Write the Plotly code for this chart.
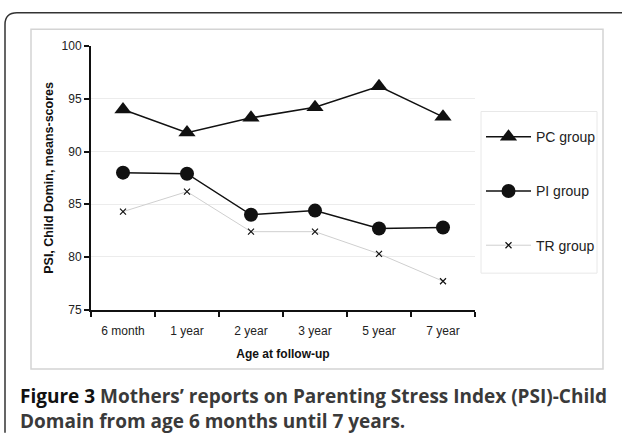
import plotly.graph_objects as go

categories = ["6 month", "1 year", "2 year", "3 year", "5 year", "7 year"]
pc_group = [94.0, 91.8, 93.2, 94.2, 96.2, 93.3]
pi_group = [88.0, 87.9, 84.0, 84.4, 82.7, 82.8]
tr_group = [84.3, 86.2, 82.4, 82.4, 80.3, 77.7]
y_ticks = [75, 80, 85, 90, 95, 100]

W, H = 622, 436
def px(x):
    return x / W
def py(y):
    return 1 - y / H

FONT = "Liberation Sans, Arial, sans-serif"

fig = go.Figure()
fig.add_trace(go.Scatter(
    x=categories, y=pc_group, name="PC group", mode="lines+markers",
    line=dict(color="#111111", width=1.5),
    marker=dict(symbol="triangle-up", size=15, color="#111111"),
    legendgroup="pc"))
fig.add_trace(go.Scatter(
    x=categories, y=pi_group, name="PI group", mode="lines+markers",
    line=dict(color="#111111", width=1.5),
    marker=dict(symbol="circle", size=14, color="#111111"),
    legendgroup="pi"))
fig.add_trace(go.Scatter(
    x=categories, y=tr_group, name="TR group", mode="lines+markers",
    line=dict(color="#cfcfcf", width=1),
    marker=dict(symbol="x-thin", size=6, color="#111111",
                line=dict(color="#111111", width=1.2)),
    legendgroup="tr"))

fig.update_layout(
    width=W, height=H,
    margin=dict(l=0, r=0, t=0, b=0),
    paper_bgcolor="white", plot_bgcolor="white",
    font=dict(family=FONT, color="#222222", size=12),
    showlegend=True,
    legend=dict(
        x=px(481), y=py(118), xanchor="left", yanchor="top",
        borderwidth=0, bgcolor="rgba(0,0,0,0)",
        font=dict(family=FONT, size=14, color="#222222"),
        tracegroupgap=33, itemwidth=45,
    ),
    xaxis=dict(
        domain=[px(91), px(475)], type="category",
        range=[-0.5, 5.5], tickson="boundaries",
        ticks="outside", ticklen=5, tickwidth=2, tickcolor="#111111",
        showline=True, linecolor="#111111", linewidth=2,
        showgrid=False, zeroline=False, ticklabelstandoff=9,
        tickfont=dict(size=12, color="#222222"),
        title=dict(text="<b>Age at follow-up</b>", font=dict(size=12, color="#111111"), standoff=13),
    ),
    yaxis=dict(
        domain=[py(312.7), py(40.5)], range=[75, 100],
        tickvals=y_ticks, ticks="outside", ticklen=5, tickwidth=2, tickcolor="#111111",
        showline=True, linecolor="#111111", linewidth=2,
        showgrid=True, gridcolor="#ececec", gridwidth=1, zeroline=False,
        tickfont=dict(size=12, color="#222222"),
        title=dict(text="<b>PSI, Child Domin, means-scores</b>", font=dict(size=12.5, color="#111111"), standoff=5),
    ),
)

# inner chart box
fig.add_shape(type="rect", xref="paper", yref="paper",
              x0=px(31), x1=px(603), y0=py(374), y1=py(23),
              line=dict(color="#d4d4d4", width=1.5), fillcolor="rgba(0,0,0,0)", layer="below")
# legend box
fig.add_shape(type="rect", xref="paper", yref="paper",
              x0=px(481), x1=px(597), y0=py(275), y1=py(108),
              line=dict(color="#e8e8e8", width=1), fillcolor="rgba(0,0,0,0)", layer="below")

# outer rounded frame
r = 12
x0, y0 = 5, 6
path = (f"M {px(x0)},{py(440)} L {px(x0)},{py(y0 + r)} "
        f"Q {px(x0)},{py(y0)} {px(x0 + r)},{py(y0)} L {px(630)},{py(y0)}")
fig.add_shape(type="path", xref="paper", yref="paper", path=path,
              line=dict(color="#333333", width=1.5))

# caption
fig.add_annotation(
    xref="paper", yref="paper", x=px(18), y=py(386), xanchor="left", yanchor="top",
    showarrow=False, align="left",
    text=("<b><span style='color:#111111'>Figure 3</span> Mothers\u2019 reports on Parenting Stress Index (PSI)-Child"
          "<br>Domain from age 6 months until 7 years.</b>"),
    font=dict(family="Open Sans, Liberation Sans, sans-serif", size=19, color="#3a3a3a"),
)

post = ("document.documentElement.style.margin='0';document.body.style.margin='0';"
        "document.body.style.padding='0';document.body.style.overflow='hidden';"
        "var g=document.getElementsByClassName('plotly-graph-div')[0];"
        "g.style.position='fixed';g.style.top='0px';g.style.left='0px';")
fig.write_html("out.html", config={"displayModeBar": False}, post_script=post)
